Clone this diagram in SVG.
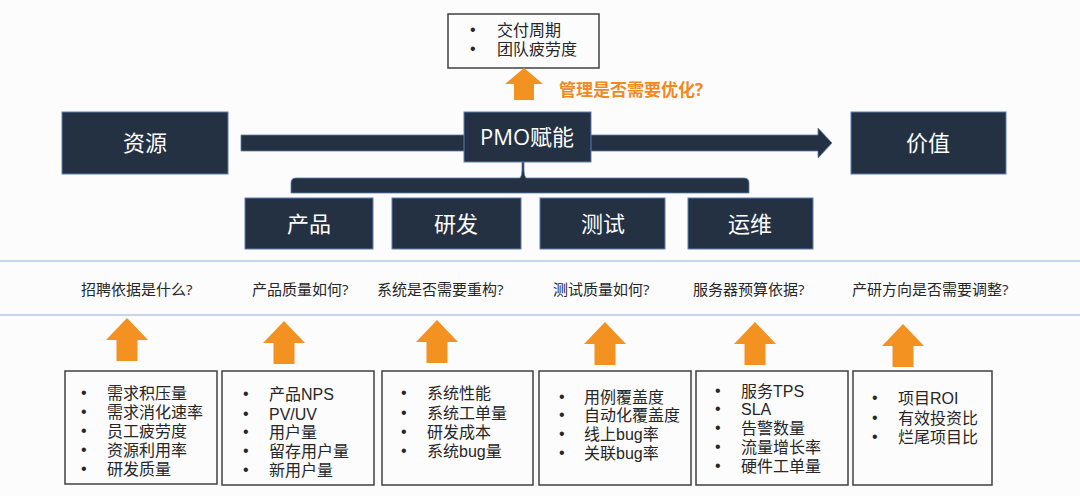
<svg xmlns="http://www.w3.org/2000/svg" width="1080" height="496" viewBox="0 0 1080 496">
<style>
text{font-family:"Open Sans","Noto Sans CJK SC",sans-serif}
.nb{fill:#243142;stroke:#5b7db3;stroke-width:1}
.nt{fill:#ffffff;font-size:22px;text-anchor:middle}
.box{fill:none;stroke:#404040;stroke-width:1.5}
text.li{fill:#262626;font-size:16px;font-family:"Liberation Sans","Noto Sans CJK SC",sans-serif}
.q{fill:#262626;font-size:15px}
.arr{fill:#f39121}
.hl{stroke:#b4c7e7;stroke-width:1.5}
</style>
<defs>
<path id="up" d="M0,0 L21,22 L10.5,22 L10.5,43 L-10.5,43 L-10.5,22 L-21,22 Z"/>
</defs>
<rect width="1080" height="496" fill="#fcfcfd"/>

<g id="connectors">
<path d="M241,135 L818,135 L818,128 L832,143 L818,158 L818,151 L241,151 Z" fill="#243142" stroke="#5b7db3" stroke-width="0.8"/>
<path d="M291,193 L291,183 Q291,178 296,178 L520,178 Q522,176 522,170 L522,162 L524,162 L524,170 Q524,176 526,178 L744,178 Q749,178 749,183 L749,193 Z" fill="#243142" stroke="#5b7db3" stroke-width="0.8"/>
<line class="hl" x1="0" y1="261" x2="1080" y2="261"/>
<line class="hl" x1="0" y1="315" x2="1080" y2="315"/>
</g>

<g id="top-box">
<rect class="box" x="448" y="14" width="151" height="54"/>
<text class="li"><tspan x="470" y="35">•</tspan><tspan x="497" y="36">交付周期</tspan><tspan x="470" y="54">•</tspan><tspan x="497" y="55">团队疲劳度</tspan></text>
</g>
<g id="top-arrow">
<path class="arr" d="M524,68 L543,84 L534,84 L534,100 L514,100 L514,84 L505,84 Z"/>
<text x="559" y="96" fill="#f0891f" font-size="17" font-weight="bold">管理是否需要优化?</text>
</g>

<g id="node-ziyuan"><rect class="nb" x="62" y="112" width="166" height="62"/><text class="nt" x="145" y="151">资源</text></g>
<g id="node-pmo"><rect class="nb" x="464" y="112" width="127" height="50"/><text class="nt" x="527" y="145">PMO赋能</text></g>
<g id="node-jiazhi"><rect class="nb" x="851" y="112" width="155" height="62"/><text class="nt" x="928" y="151">价值</text></g>

<g id="node-chanpin"><rect class="nb" x="245" y="198" width="128" height="51"/><text class="nt" x="309" y="232">产品</text></g>
<g id="node-yanfa"><rect class="nb" x="392" y="198" width="129" height="51"/><text class="nt" x="456" y="232">研发</text></g>
<g id="node-ceshi"><rect class="nb" x="540" y="198" width="125" height="51"/><text class="nt" x="603" y="232">测试</text></g>
<g id="node-yunwei"><rect class="nb" x="688" y="198" width="125" height="51"/><text class="nt" x="750" y="232">运维</text></g>

<g id="questions">
<text class="q" x="81" y="295">招聘依据是什么?</text>
<text class="q" x="252" y="295">产品质量如何?</text>
<text class="q" x="377" y="295">系统是否需要重构?</text>
<text class="q" x="553" y="295">测试质量如何?</text>
<text class="q" x="693" y="295">服务器预算依据?</text>
<text class="q" x="852" y="295">产研方向是否需要调整?</text>
</g>

<g id="arrows">
<use href="#up" class="arr" x="127" y="318"/>
<use href="#up" class="arr" x="284" y="321"/>
<use href="#up" class="arr" x="437" y="320"/>
<use href="#up" class="arr" x="605" y="322"/>
<use href="#up" class="arr" x="755" y="322"/>
<use href="#up" class="arr" x="903" y="324"/>
</g>

<g id="box-resource">
<rect class="box" x="65" y="371" width="152" height="113"/>
<text class="li"><tspan x="81" y="398">•</tspan><tspan x="107" y="399">需求积压量</tspan><tspan x="81" y="417">•</tspan><tspan x="107" y="418">需求消化速率</tspan><tspan x="81" y="436">•</tspan><tspan x="107" y="437">员工疲劳度</tspan><tspan x="81" y="455">•</tspan><tspan x="107" y="456">资源利用率</tspan><tspan x="81" y="474">•</tspan><tspan x="107" y="475">研发质量</tspan></text>
</g>
<g id="box-product">
<rect class="box" x="222" y="371" width="152" height="114"/>
<text class="li"><tspan x="243" y="399">•</tspan><tspan x="269" y="400">产品NPS</tspan><tspan x="243" y="419">•</tspan><tspan x="269" y="420">PV/UV</tspan><tspan x="243" y="437">•</tspan><tspan x="269" y="438">用户量</tspan><tspan x="243" y="456">•</tspan><tspan x="269" y="457">留存用户量</tspan><tspan x="243" y="475">•</tspan><tspan x="269" y="476">新用户量</tspan></text>
</g>
<g id="box-rd">
<rect class="box" x="382" y="371" width="151" height="114"/>
<text class="li"><tspan x="401" y="398">•</tspan><tspan x="427" y="399">系统性能</tspan><tspan x="401" y="418">•</tspan><tspan x="427" y="419">系统工单量</tspan><tspan x="401" y="437">•</tspan><tspan x="427" y="438">研发成本</tspan><tspan x="401" y="456">•</tspan><tspan x="427" y="457">系统bug量</tspan></text>
</g>
<g id="box-test">
<rect class="box" x="539" y="371" width="152" height="114"/>
<text class="li"><tspan x="559" y="402">•</tspan><tspan x="584" y="403">用例覆盖度</tspan><tspan x="559" y="420">•</tspan><tspan x="584" y="421">自动化覆盖度</tspan><tspan x="559" y="439">•</tspan><tspan x="584" y="440">线上bug率</tspan><tspan x="559" y="458">•</tspan><tspan x="584" y="459">关联bug率</tspan></text>
</g>
<g id="box-ops">
<rect class="box" x="696" y="371" width="152" height="114"/>
<text class="li"><tspan x="715" y="396">•</tspan><tspan x="741" y="397">服务TPS</tspan><tspan x="715" y="414">•</tspan><tspan x="741" y="415">SLA</tspan><tspan x="715" y="433">•</tspan><tspan x="741" y="434">告警数量</tspan><tspan x="715" y="452">•</tspan><tspan x="741" y="453">流量增长率</tspan><tspan x="715" y="471">•</tspan><tspan x="741" y="472">硬件工单量</tspan></text>
</g>
<g id="box-value">
<rect class="box" x="853" y="371" width="139" height="114"/>
<text class="li"><tspan x="872" y="403">•</tspan><tspan x="898" y="404">项目ROI</tspan><tspan x="872" y="423">•</tspan><tspan x="898" y="424">有效投资比</tspan><tspan x="872" y="442">•</tspan><tspan x="898" y="443">烂尾项目比</tspan></text>
</g>
</svg>
